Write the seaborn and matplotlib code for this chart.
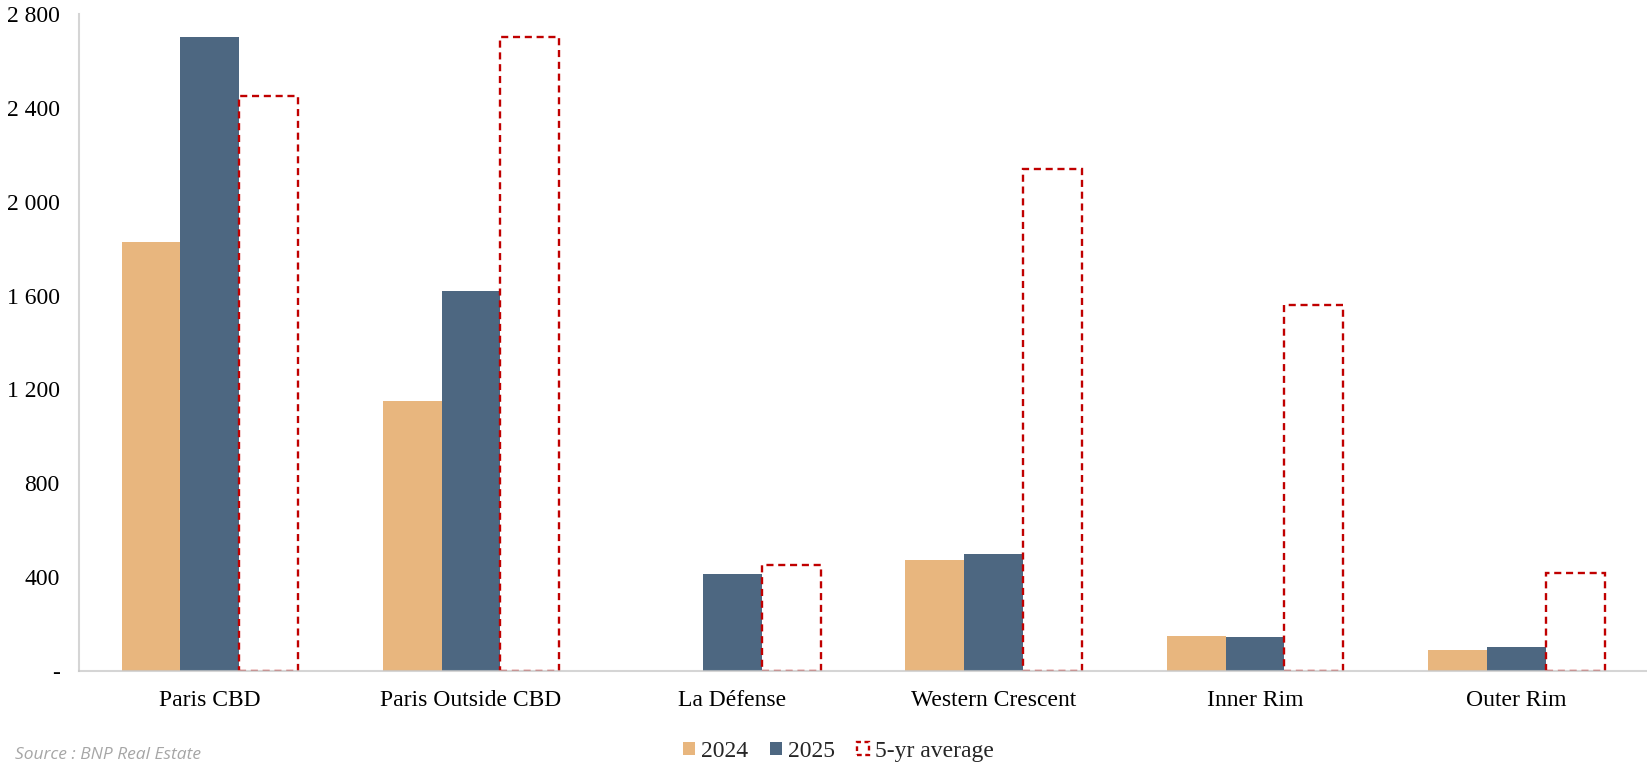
import matplotlib
matplotlib.use("Agg")
import matplotlib.pyplot as plt
import matplotlib.patches as mpatches
from matplotlib.ticker import FuncFormatter
import pandas as pd
import seaborn as sns

# Office take-up by Île-de-France sector (thousand m²)
sectors = ["Paris CBD", "Paris Outside CBD", "La Défense",
           "Western Crescent", "Inner Rim", "Outer Rim"]
takeup_2024 = [1830, 1150, 0, 473, 149, 91]
takeup_2025 = [2700, 1620, 415, 500, 146, 101]
avg_5yr = [2450, 2700, 450, 2140, 1560, 416]
series_names = ["2024", "2025", "5-yr average"]
y_ticks = [0, 400, 800, 1200, 1600, 2000, 2400, 2800]

col_2024 = "#E8B67E"
col_2025 = "#4D6781"
col_avg = "#C00000"

df = pd.DataFrame({
    "sector": sectors * 3,
    "series": [s for s in series_names for _ in sectors],
    "value": takeup_2024 + takeup_2025 + avg_5yr,
})

sns.set_theme(style="white")
plt.rcParams["font.family"] = ["Liberation Serif", "DejaVu Serif"]

fig = plt.figure(figsize=(16.47, 7.65), dpi=100)
ax = fig.add_axes([0.048, 0.1229, 0.952, 0.8588])

sns.barplot(data=df, x="sector", y="value", hue="series",
            order=sectors, hue_order=series_names,
            palette=[col_2024, col_2025, "white"],
            width=0.675, gap=0, saturation=1, errorbar=None,
            linewidth=0, legend=False, ax=ax)

# Five-year average shown as an unfilled dashed outline
for bar in ax.containers[2]:
    bar.set_facecolor("none")
    bar.set_edgecolor(col_avg)
    bar.set_linewidth(1.7)
    bar.set_linestyle((0, (3, 2)))

ax.set_xlim(-0.5, len(sectors) - 0.5)
ax.set_ylim(0, 2800)
ax.set_yticks(y_ticks)
ax.yaxis.set_major_formatter(FuncFormatter(
    lambda v, _: "-" if v == 0 else f"{int(v):,}".replace(",", " ")))
ax.set_xlabel("")
ax.set_ylabel("")
ax.tick_params(axis="both", length=0, labelsize=17, colors="black")
ax.tick_params(axis="x", pad=14)
ax.tick_params(axis="y", pad=14)

for side in ["top", "right"]:
    ax.spines[side].set_visible(False)
for side in ["left", "bottom"]:
    ax.spines[side].set_color("#C8C8C8")
    ax.spines[side].set_linewidth(1.5)
    ax.spines[side].set_alpha(0.75)
    ax.spines[side].set_zorder(5)

handles = [
    mpatches.Patch(facecolor=col_2024, edgecolor="none", label=series_names[0]),
    mpatches.Patch(facecolor=col_2025, edgecolor="none", label=series_names[1]),
    mpatches.Patch(facecolor="none", edgecolor=col_avg, linewidth=1.7,
                   linestyle=(0, (2, 1.5)), label=series_names[2]),
]
fig.legend(handles=handles, loc="center", bbox_to_anchor=(0.509, 0.018),
           ncol=3, frameon=False, fontsize=17, handlelength=0.5,
           handleheight=0.5, handletextpad=0.25, columnspacing=0.95,
           borderpad=0, borderaxespad=0)

fig.text(0.009, 0.002, "Source : BNP Real Estate",
         family=["Open Sans", "DejaVu Sans"], style="italic",
         fontsize=12.5, color="#A6A6A6", va="bottom", ha="left")

fig.savefig("out.png", dpi=100)
